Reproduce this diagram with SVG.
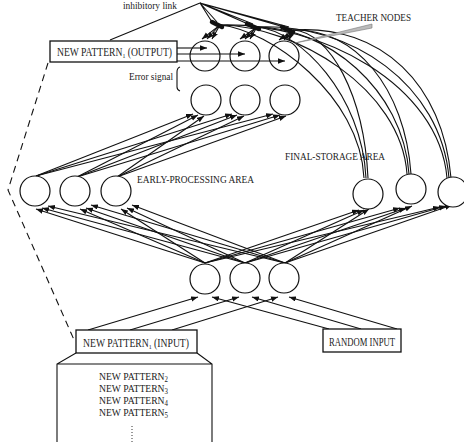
<svg xmlns="http://www.w3.org/2000/svg" width="464" height="442" viewBox="0 0 464 442">
<defs>
<marker id="ah" markerUnits="userSpaceOnUse" markerWidth="8" markerHeight="6" refX="7" refY="2.7" orient="auto"><path d="M0,0 L7,2.7 L0,5.4 z" fill="#111"/></marker>
<style>
.n{fill:#fff;stroke:#111;stroke-width:1.2}
.o{fill:none;stroke:#111;stroke-width:1.2}
.c{fill:none;stroke:#111;stroke-width:1.1}
.a{fill:none;stroke:#111;stroke-width:1.1;marker-end:url(#ah)}
.b{fill:#fff;stroke:#111;stroke-width:1.3}
.t{font-family:"Liberation Serif","Times New Roman",serif;fill:#222}
.blob{stroke:#111;stroke-width:4.5;stroke-linecap:round}
</style>
</defs>
<rect width="464" height="442" fill="#fff"/>

<g id="connectors">
<polyline points="48,63 8,190 75,342" class="c" stroke-dasharray="7,5"/>
<path class="c" d="M110,40 L200,3 M200,3 L212,22 M200,3 L217,22 M200,3 L248,24 M200,3 L253,24 M200,3 L284,27 M200,3 L289,27"/>
<path class="a" d="M177,48 L207,48"/>
<path class="a" d="M177,54 L245,54"/>
<path class="a" d="M177,61 L285,61"/>
<path class="a" d="M364,178 C360,95 270,30 220,25 L202,39"/>
<path class="a" d="M366,178 C362,95 300,31 257,27 L240,39"/>
<path class="a" d="M368,178 C364,95 330,32 293,30 L279,40"/>
<path class="a" d="M407,174 C401,88 295,26 220,25 L207,39"/>
<path class="a" d="M409,174 C403,88 325,27 257,27 L245,39"/>
<path class="a" d="M411,174 C405,88 355,28 293,30 L284,40"/>
<path class="a" d="M447,178 C439,85 322,22 220,25 L212,39"/>
<path class="a" d="M449,178 C441,85 352,23 257,27 L250,39"/>
<path class="a" d="M451,178 C443,85 382,24 293,30 L289,40"/>
<line class="blob" x1="212" y1="22" x2="222" y2="27"/>
<line class="blob" x1="247" y1="24" x2="259" y2="29"/>
<line class="blob" x1="282" y1="27" x2="293" y2="32"/>
<path class="a" d="M36,176 L193,114"/>
<path class="a" d="M36,176 L232,114"/>
<path class="a" d="M36,176 L273,114"/>
<path class="a" d="M77,177 L198,115"/>
<path class="a" d="M77,177 L237,115"/>
<path class="a" d="M77,177 L280,115"/>
<path class="a" d="M117,177 L204,116"/>
<path class="a" d="M117,177 L244,116"/>
<path class="a" d="M117,177 L286,116"/>
<path class="a" d="M205,263 L36,209"/>
<path class="a" d="M245,263 L42,208"/>
<path class="a" d="M285,263 L48,206"/>
<path class="a" d="M205,263 L80,209"/>
<path class="a" d="M245,263 L86,208"/>
<path class="a" d="M285,263 L91,205"/>
<path class="a" d="M205,263 L121,209"/>
<path class="a" d="M245,263 L127,208"/>
<path class="a" d="M285,263 L132,205"/>
<path class="a" d="M205,263 L359,210"/>
<path class="a" d="M245,263 L364,210"/>
<path class="a" d="M285,263 L369,209"/>
<path class="a" d="M205,263 L400,208"/>
<path class="a" d="M245,263 L406,208"/>
<path class="a" d="M285,263 L412,206"/>
<path class="a" d="M205,263 L440,207"/>
<path class="a" d="M245,263 L446,206"/>
<path class="a" d="M285,263 L452,205"/>
<path class="a" d="M88,330 L198,297"/>
<path class="a" d="M130,330 L239,297"/>
<path class="a" d="M172,330 L278,297"/>
<path class="a" d="M329,329 L212,297"/>
<path class="a" d="M361,329 L252,297"/>
<path class="a" d="M397,329 L289,297"/>
<path class="c" d="M76,353 L57,364 L57,442 M197,353 L212,364 L212,442 M57,364 L212,364"/>
<path class="c" d="M180,67 Q177,68 177,72 L177,87 Q177,90 180,91"/>
<polygon points="295,43 372,24 372,28" fill="#bbb" stroke="#777" stroke-width="0.6"/>
</g>

<g id="box-output"><rect class="b" x="50" y="41" width="127" height="21"/>
<text class="t" x="57" y="56" font-size="11.5" textLength="115" lengthAdjust="spacingAndGlyphs">NEW PATTERN<tspan font-size="7" dy="2">1</tspan><tspan dy="-2"> (OUTPUT)</tspan></text></g>

<g id="teacher-1"><circle class="o" cx="205" cy="56" r="15"/></g>
<g id="teacher-2"><circle class="o" cx="245" cy="56" r="15"/></g>
<g id="teacher-3"><circle class="o" cx="284" cy="56" r="15"/></g>

<g id="row2-1"><circle class="n" cx="206" cy="100" r="15"/></g>
<g id="row2-2"><circle class="n" cx="245" cy="100" r="15"/></g>
<g id="row2-3"><circle class="n" cx="285" cy="100" r="15"/></g>

<g id="early-1"><circle class="n" cx="35" cy="191" r="15"/></g>
<g id="early-2"><circle class="n" cx="75" cy="191" r="15"/></g>
<g id="early-3"><circle class="n" cx="116" cy="191" r="15"/></g>

<g id="final-1"><circle class="n" cx="368" cy="194" r="15"/></g>
<g id="final-2"><circle class="n" cx="411" cy="189" r="15"/></g>
<g id="final-3"><circle class="n" cx="453" cy="192" r="15"/></g>

<g id="hidden-1"><circle class="n" cx="205" cy="279" r="15"/></g>
<g id="hidden-2"><circle class="n" cx="245" cy="278" r="15"/></g>
<g id="hidden-3"><circle class="n" cx="284" cy="278" r="15"/></g>

<g id="box-input"><rect class="b" x="76" y="330" width="121" height="23"/>
<text class="t" x="83" y="347" font-size="11.5" textLength="106" lengthAdjust="spacingAndGlyphs">NEW PATTERN<tspan font-size="7" dy="2">1</tspan><tspan dy="-2"> (INPUT)</tspan></text></g>

<g id="box-random"><rect class="b" x="323" y="329" width="78" height="23"/>
<text class="t" x="329" y="346" font-size="11.5" textLength="66" lengthAdjust="spacingAndGlyphs">RANDOM INPUT</text></g>

<g id="pattern-list">
<text class="t" x="99" y="380" font-size="10.5" textLength="69" lengthAdjust="spacingAndGlyphs">NEW PATTERN<tspan font-size="7.5" dy="1.5">2</tspan></text>
<text class="t" x="99" y="392" font-size="10.5" textLength="69" lengthAdjust="spacingAndGlyphs">NEW PATTERN<tspan font-size="7.5" dy="1.5">3</tspan></text>
<text class="t" x="99" y="404" font-size="10.5" textLength="69" lengthAdjust="spacingAndGlyphs">NEW PATTERN<tspan font-size="7.5" dy="1.5">4</tspan></text>
<text class="t" x="99" y="416" font-size="10.5" textLength="69" lengthAdjust="spacingAndGlyphs">NEW PATTERN<tspan font-size="7.5" dy="1.5">5</tspan></text>
<line x1="132" y1="426" x2="132" y2="442" stroke="#333" stroke-width="1" stroke-dasharray="1,2"/>
</g>

<g id="labels">
<text class="t" x="123" y="9" font-size="10" textLength="54" lengthAdjust="spacingAndGlyphs">inhibitory link</text>
<text class="t" x="129" y="80" font-size="11" textLength="44" lengthAdjust="spacingAndGlyphs">Error signal</text>
<text class="t" x="336" y="21" font-size="10" textLength="75" lengthAdjust="spacingAndGlyphs">TEACHER NODES</text>
<text class="t" x="137" y="183" font-size="10" textLength="117" lengthAdjust="spacingAndGlyphs">EARLY-PROCESSING AREA</text>
<text class="t" x="285" y="160" font-size="10" textLength="100" lengthAdjust="spacingAndGlyphs">FINAL-STORAGE AREA</text>
</g>
</svg>
